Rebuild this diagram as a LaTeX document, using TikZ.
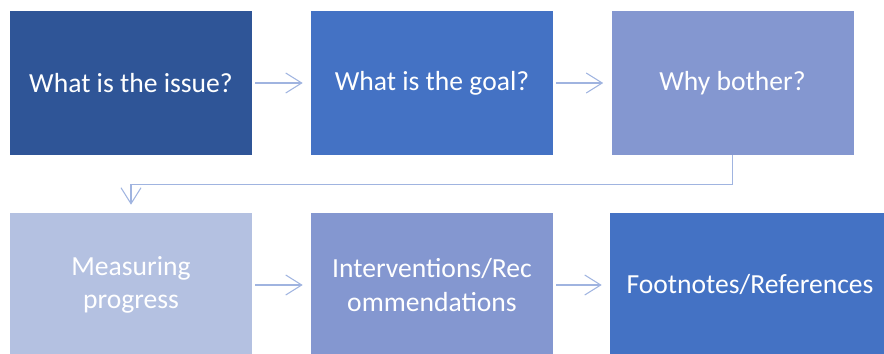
\documentclass[tikz,border=0pt]{standalone}
\usepackage{fontspec}
\setmainfont{Carlito}
\usetikzlibrary{arrows.meta}
\definecolor{navy}{HTML}{2F5597}
\definecolor{midblue}{HTML}{4472C4}
\definecolor{paleblue}{HTML}{8497D0}
\definecolor{mistblue}{HTML}{B4C1E1}
\definecolor{arrowblue}{HTML}{A0B4E0}
\begin{document}
\begin{tikzpicture}
        [x=0.75pt,y=-0.75pt,
        boxdecorate/.style={shape=rectangle,inner sep=0pt,text=white,align=center,
          minimum width=181.5pt,minimum height=108pt,
          font=\fontsize{20.7}{24.8}\selectfont},%
        arrowdecorate/.style={->,>={Straight Barb[length=12pt,width=15pt]},
          draw=arrowblue,line width=0.8pt,shorten <=2.25pt,shorten >=6pt}]
        \useasboundingbox (0,0) rectangle (884,353);
        \clip (0,0) rectangle (884,353);
        %% steps of the plan
        \foreach \nodename/\x/\y/\colour/\caption in {issue/131/83/navy/What is the issue?,
          goal/432/83/midblue/What is the goal?, bother/732.5/83/paleblue/Why bother?,
          progress/131/285/mistblue/Measuring\\progress,
          interventions/432/285/paleblue/{Interventions/Rec\\ommendations}}
        {
          \node (\nodename) at (\x,\y) [boxdecorate,fill=\colour] {\caption};
        }
        \node (footnotes) at (750,285) [boxdecorate,fill=midblue,minimum width=210pt] {Footnotes/References};
        %% arrows between the steps
        \path
        \foreach \startnode/\endnode in {issue/goal, goal/bother, progress/interventions, interventions/footnotes}
        {
          (\startnode) edge[arrowdecorate] (\endnode)
        };
        \draw[arrowdecorate,shorten <=0pt] (bother.south) -- ++(0,29) -| (progress.north);
      \end{tikzpicture}
\end{document}
